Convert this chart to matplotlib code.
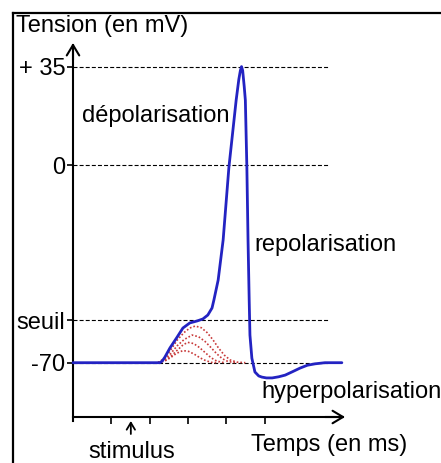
import matplotlib
matplotlib.use('Agg')
import matplotlib.pyplot as plt
from matplotlib.lines import Line2D

# ---------------- data (time in ms, voltage in mV) ----------------
level_values = [-70, -55, 0, 35]
level_labels = ['-70', 'seuil', '0', '+ 35']
x_ticks = [1, 2, 3, 4, 5]
stimulus_time = 1.51
dashed_end = 6.66

ap_time = [0.0, 2.27, 2.33, 2.40, 2.53, 2.72, 2.87, 3.05, 3.24, 3.39, 3.52, 3.63, 3.68,
           3.79, 3.92, 4.07, 4.26, 4.33, 4.37, 4.40, 4.43, 4.47, 4.50, 4.54, 4.57,
           4.60, 4.62, 4.67, 4.75, 4.85, 4.93, 5.05, 5.20, 5.37, 5.54, 5.73, 5.93,
           6.12, 6.32, 6.58, 7.02]
ap_volt = [-70, -70, -69.4, -68.0, -64.8, -60.9, -57.7, -55.9, -55.2, -54.5, -53.1, -50.6, -47.7,
           -40.7, -26.5, -0.8, 23.1, 30.5, 33.6, 35.0, 33.6, 28.0, 23.1, -1.0, -26.5,
           -47.7, -60.2, -68.4, -73.3, -74.7, -75.1, -75.4, -75.4, -75.0, -74.4, -73.2, -71.9,
           -70.9, -70.4, -70.0, -70.0]

sub1_time = [2.22, 2.40, 2.55, 2.72, 2.90, 3.05, 3.19, 3.35, 3.50, 3.65, 3.80, 3.95, 4.10, 4.28, 4.50]
sub1_volt = [-70, -68.3, -65.5, -62.0, -59.3, -57.7, -57.0, -57.6, -59.3, -61.8, -64.8, -67.3, -69.0, -69.8, -70]
sub2_time = [2.22, 2.40, 2.55, 2.72, 2.90, 3.11, 3.28, 3.45, 3.60, 3.75, 3.90, 4.05, 4.25]
sub2_volt = [-70, -68.8, -66.8, -64.0, -61.8, -60.2, -60.8, -62.5, -64.6, -66.8, -68.6, -69.6, -70]
sub3_time = [2.22, 2.40, 2.55, 2.72, 2.88, 3.00, 3.15, 3.30, 3.45, 3.60, 3.75, 3.95]
sub3_volt = [-70, -69.2, -67.8, -65.6, -63.6, -62.8, -63.2, -64.6, -66.4, -68.2, -69.4, -70]
sub4_time = [2.22, 2.40, 2.55, 2.70, 2.87, 3.02, 3.17, 3.32, 3.47, 3.62, 3.80]
sub4_volt = [-70, -69.4, -68.2, -66.7, -65.7, -66.0, -67.0, -68.3, -69.3, -69.9, -70]

# ---------------- layout ----------------
W, H, DPI = 441, 463, 100
X0, SX = 73.0, 38.3      # pixel of t=0, pixels per ms
Y0, SY = 165.3, 2.82     # pixel of 0 mV (from top), pixels per mV


def T(px):
    return (px - X0) / SX


def V(py):
    return (Y0 - py) / SY


def F(px, py):
    return px / W, 1 - py / H


plt.rcParams['font.family'] = ['Liberation Sans', 'DejaVu Sans']
FS = 17
BLUE = '#2323c2'
RED = '#c83a3a'

fig = plt.figure(figsize=(W / DPI, H / DPI), dpi=DPI)
ax = fig.add_axes([0, 0, 1, 1])
ax.set_xlim(T(0), T(W))
ax.set_ylim(V(H), V(0))

for s in ['top', 'right']:
    ax.spines[s].set_visible(False)
ax.spines['left'].set_position(('data', 0))
ax.spines['left'].set_bounds(V(421), V(45))
ax.spines['bottom'].set_position(('data', V(417)))
ax.spines['bottom'].set_bounds(0, T(343))
for s in ['left', 'bottom']:
    ax.spines[s].set_linewidth(1.5)

ax.set_yticks(level_values, level_labels)
ax.set_xticks(x_ticks)
ax.tick_params(axis='y', direction='out', length=4, width=1.2, pad=1.5, labelsize=FS)
ax.tick_params(axis='x', direction='out', length=5, width=1.2, labelbottom=False)

arrow_style = '->,head_length=0.75,head_width=0.45'
ax.annotate('', xy=(0, V(43)), xytext=(0, V(60)),
            arrowprops=dict(arrowstyle=arrow_style, lw=1.5, color='black',
                            shrinkA=0, shrinkB=0, mutation_scale=10))
ax.annotate('', xy=(T(345), V(417)), xytext=(T(325), V(417)),
            arrowprops=dict(arrowstyle=arrow_style, lw=1.5, color='black',
                            shrinkA=0, shrinkB=0, mutation_scale=10))
ax.annotate('', xy=(stimulus_time, V(421)), xytext=(stimulus_time, V(434)),
            arrowprops=dict(arrowstyle='->,head_length=0.5,head_width=0.3', lw=1.3,
                            color='black', shrinkA=0, shrinkB=0, mutation_scale=10))

ax.hlines(level_values, 0, dashed_end, colors='black', linewidth=0.8,
          linestyles=(0, (3.6, 1.9)), zorder=1)

for tt, vv in [(sub1_time, sub1_volt), (sub2_time, sub2_volt),
               (sub3_time, sub3_volt), (sub4_time, sub4_volt)]:
    ax.plot(tt, vv, color=RED, linewidth=1.2, linestyle=(0, (1, 1.2)), zorder=2)

ax.plot(ap_time, ap_volt, color=BLUE, linewidth=2.0, solid_joinstyle='round',
        solid_capstyle='round', zorder=3)

fig.text(*F(16, 32), 'Tension (en mV)', fontsize=FS, va='baseline', ha='left')
fig.text(*F(82, 122), 'dépolarisation', fontsize=FS, va='baseline', ha='left')
fig.text(*F(254, 251), 'repolarisation', fontsize=FS, va='baseline', ha='left')
fig.text(*F(261, 398), 'hyperpolarisation', fontsize=FS, va='baseline', ha='left')
fig.text(*F(251, 451), 'Temps (en ms)', fontsize=FS, va='baseline', ha='left')
fig.text(*F(132, 458), 'stimulus', fontsize=FS, va='baseline', ha='center')

# picture frame (top and left edges visible)
fig.add_artist(Line2D([13 / W, 1.05], [1 - 13 / H, 1 - 13 / H], transform=fig.transFigure,
                      color='black', linewidth=1.6, solid_capstyle='projecting'))
fig.add_artist(Line2D([13 / W, 13 / W], [1 - 13 / H, -0.05], transform=fig.transFigure,
                      color='black', linewidth=1.6, solid_capstyle='projecting'))

fig.savefig('out.png', dpi=DPI)
